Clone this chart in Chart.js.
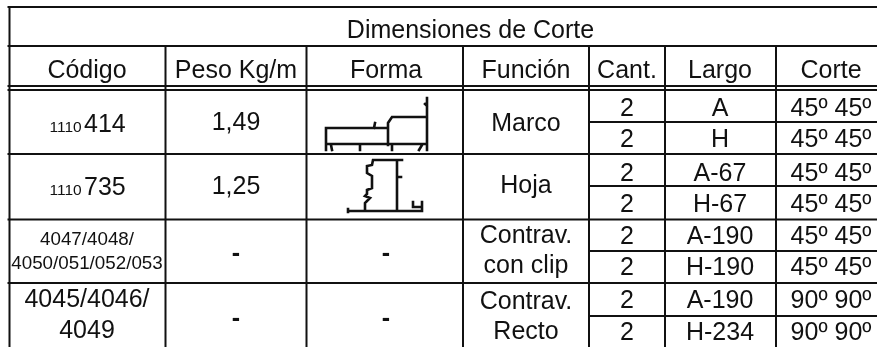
<!DOCTYPE html>
<html>
<head>
<meta charset="utf-8">
<title>Dimensiones de Corte</title>
<script src="https://cdn.jsdelivr.net/npm/chart.js@4"></script>
<style>
  html, body { margin: 0; padding: 0; background: #fff; overflow: hidden; }
  canvas { display: block; }
</style>
</head>
<body>
<canvas id="tableChart" width="877" height="347"></canvas>
<script>
// table contents
const tableTitle = 'Dimensiones de Corte';
const headers = ['Código', 'Peso Kg/m', 'Forma', 'Función', 'Cant.', 'Largo', 'Corte'];
const codePrefixes = ['1110', '1110'];
const codeSuffixes = ['414', '735'];
const smallCodes = ['4047/4048/', '4050/051/052/053'];
const largeCodes = ['4045/4046/', '4049'];
const pesos = ['1,49', '1,25', '-', '-'];
const formaDashes = ['-', '-'];
const funciones = ['Marco', 'Hoja', 'Contrav.', 'con clip', 'Contrav.', 'Recto'];
const cantidades = ['2', '2', '2', '2', '2', '2', '2', '2'];
const largos = ['A', 'H', 'A-67', 'H-67', 'A-190', 'H-190', 'A-190', 'H-234'];
const cortes = ['45º 45º', '45º 45º', '45º 45º', '45º 45º', '45º 45º', '45º 45º', '90º 90º', '90º 90º'];

// profile drawings
const marcoProfile = [
  [[326, 150], [326, 128], [388, 128], [388, 123], [392, 117], [427, 117]],
  [[388, 128], [388, 145]],
  [[427, 98], [427, 150]],
  [[326, 144], [427, 144]],
  [[375, 123], [374, 128]],
  [[331, 145], [332, 150]],
  [[360, 145], [360, 150]],
  [[392, 145], [392, 150]],
  [[422, 145], [419, 150]],
  [[425, 104], [427, 106]]
];
const hojaProfile = [
  [[402, 160], [373, 160], [372, 165], [367, 166], [367, 173], [372, 176], [372, 188], [367, 190], [367, 194], [365, 196], [370, 198], [365, 203], [365, 211]],
  [[397, 160], [397, 211]],
  [[348, 211], [422, 211], [422, 202]],
  [[413, 202], [413, 207], [422, 207]],
  [[348, 209], [348, 212]],
  [[397, 177], [401, 177]]
];

// layout
const colEdges = [9.5, 165.5, 306.5, 463, 589, 665, 776, 877];
const colCenters = [87, 236, 386, 526, 627, 720, 831];
const rowEdges = [7, 46, 86, 90, 154, 219.5, 283];
const subRowEdges = [122, 186, 251, 316];
const tableBottom = 347;
const bigFont = '25px "Liberation Sans", Arial, sans-serif';
const inkColor = '#111';

function segments(list) {
  const pts = [];
  list.forEach(seg => {
    seg.forEach(p => pts.push({ x: p[0], y: p[1] }));
    pts.push({ x: seg[seg.length - 1][0], y: NaN });
  });
  return pts;
}

function ruleSegments() {
  const list = [];
  const left = colEdges[0];
  const right = colEdges[colEdges.length - 1];
  rowEdges.forEach(y => list.push([[left - 1, y], [right, y]]));
  subRowEdges.forEach(y => list.push([[colEdges[4], y], [right, y]]));
  list.push([[left, rowEdges[0]], [left, tableBottom]]);
  colEdges.slice(1, -1).forEach(x => list.push([[x, rowEdges[1]], [x, tableBottom]]));
  return list;
}

function lineSet(data, width) {
  return {
    type: 'line',
    data: data,
    borderColor: inkColor,
    borderWidth: width,
    pointRadius: 0,
    tension: 0,
    spanGaps: false,
    borderCapStyle: 'square'
  };
}

const cellText = {
  id: 'cellText',
  afterDatasetsDraw(chart) {
    const { ctx, scales: { x, y } } = chart;
    const put = (str, cx, base, font, align) => {
      ctx.font = font || bigFont;
      ctx.textAlign = align || 'center';
      ctx.fillText(str, x.getPixelForValue(cx), y.getPixelForValue(base));
    };
    ctx.save();
    ctx.fillStyle = inkColor;
    ctx.textBaseline = 'alphabetic';

    put(tableTitle, 470.5, 38);
    headers.forEach((h, i) => put(h, colCenters[i], 78));

    // codes: small prefix + big suffix
    const smallCode = '15.5px "Liberation Sans", Arial, sans-serif';
    [132, 195].forEach((base, i) => {
      put(codePrefixes[i], 49.5, base, smallCode, 'left');
      put(codeSuffixes[i], 84, base, bigFont, 'left');
    });
    const midCode = '18.8px "Liberation Sans", Arial, sans-serif';
    [245, 269].forEach((base, i) => put(smallCodes[i], 87, base, midCode));
    [307, 338].forEach((base, i) => put(largeCodes[i], 87, base));

    const dashFont = 'bold 25px "Liberation Sans", Arial, sans-serif';
    put(pesos[0], 236, 130);
    put(pesos[1], 236, 194);
    put(pesos[2], 236, 261, dashFont);
    put(pesos[3], 236, 326, dashFont);
    put(formaDashes[0], 386, 261, dashFont);
    put(formaDashes[1], 386, 326, dashFont);

    [131, 193, 243, 273, 309, 339].forEach((base, i) => put(funciones[i], 526, base));

    const subBases = [116, 147, 181, 212, 244, 275, 308, 340];
    subBases.forEach((base, i) => {
      put(cantidades[i], colCenters[4], base);
      put(largos[i], colCenters[5], base);
      put(cortes[i], colCenters[6], base);
    });
    ctx.restore();
  }
};

new Chart(document.getElementById('tableChart'), {
  type: 'line',
  data: {
    datasets: [
      lineSet(segments(ruleSegments()), 2),
      lineSet(segments(marcoProfile), 2.6),
      lineSet(segments(hojaProfile), 2.6)
    ]
  },
  options: {
    responsive: false,
    animation: false,
    layout: { padding: 0 },
    plugins: { legend: { display: false }, tooltip: { enabled: false } },
    scales: {
      x: { type: 'linear', min: 0, max: 877, display: false },
      y: { type: 'linear', min: 0, max: 347, reverse: true, display: false }
    }
  },
  plugins: [cellText]
});
</script>
</body>
</html>
